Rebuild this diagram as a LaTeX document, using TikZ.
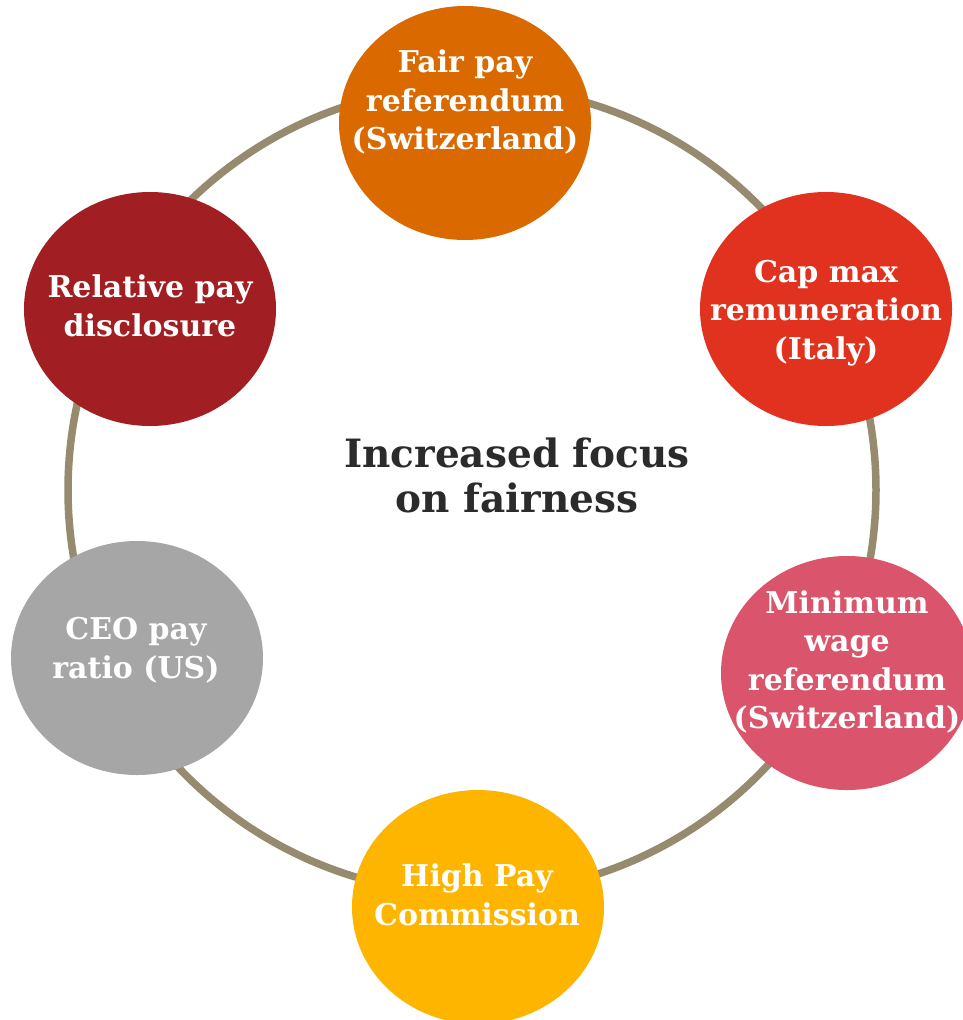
\documentclass[tikz,border=0pt]{standalone}
\usepackage{fontspec}
\setmainfont{DejaVu Serif}
\usetikzlibrary{shapes.geometric}

\definecolor{ringcol}{HTML}{968B6E}
\definecolor{fairorange}{HTML}{DA6A00}
\definecolor{capred}{HTML}{E0321F}
\definecolor{wagepink}{HTML}{DA546B}
\definecolor{payyellow}{HTML}{FDB500}
\definecolor{ceogray}{HTML}{A6A6A6}
\definecolor{reldark}{HTML}{A11F22}
\definecolor{titlecol}{HTML}{2B2B2B}

\tikzset{
  bubble/.style={ellipse, draw=none, fill=#1, minimum width=252pt, minimum height=234pt, inner sep=0pt},
  bubbletext/.style={text=white, font=\bfseries\fontsize{30}{38.5}\selectfont, align=center, inner sep=0pt},
  titletext/.style={text=titlecol, font=\bfseries\fontsize{39}{45}\selectfont, align=center, inner sep=0pt}
}

\begin{document}
\begin{tikzpicture}[x=1pt, y=-1pt]
  \useasboundingbox (0,0) rectangle (963,1020);
  \clip (0,0) rectangle (963,1020);
  \fill[white] (0,0) rectangle (963,1020);

  % ring joining the six topics
  \node[circle, draw=ringcol, line width=7.5pt, minimum size=808pt, inner sep=0pt] (ring) at (472,490) {};

  % topic bubbles
  \node[bubble=fairorange] (fair) at (465,123) {};
  \node[bubble=capred]     (cap)  at (826,309) {};
  \node[bubble=wagepink]   (wage) at (847,673) {};
  \node[bubble=payyellow]  (high) at (478,907) {};
  \node[bubble=ceogray]    (ceo)  at (137,658) {};
  \node[bubble=reldark]    (rel)  at (150,309) {};

  % bubble labels
  \node[bubbletext] (fairt) at (465,102) {Fair pay\\referendum\\(Switzerland)};
  \node[bubbletext] (capt)  at (826,313) {Cap max\\remuneration\\(Italy)};
  \node[bubbletext] (waget) at (847,662) {Minimum\\wage\\referendum\\(Switzerland)};
  \node[bubbletext] (hight) at (477,895) {High Pay\\Commission};
  \node[bubbletext] (ceot)  at (136,650) {CEO pay\\ratio (US)};
  \node[bubbletext] (relt)  at (150,306) {Relative pay\\disclosure};

  % central statement
  \node[titletext] (title) at (517,475) {Increased focus\\on fairness};
\end{tikzpicture}
\end{document}
